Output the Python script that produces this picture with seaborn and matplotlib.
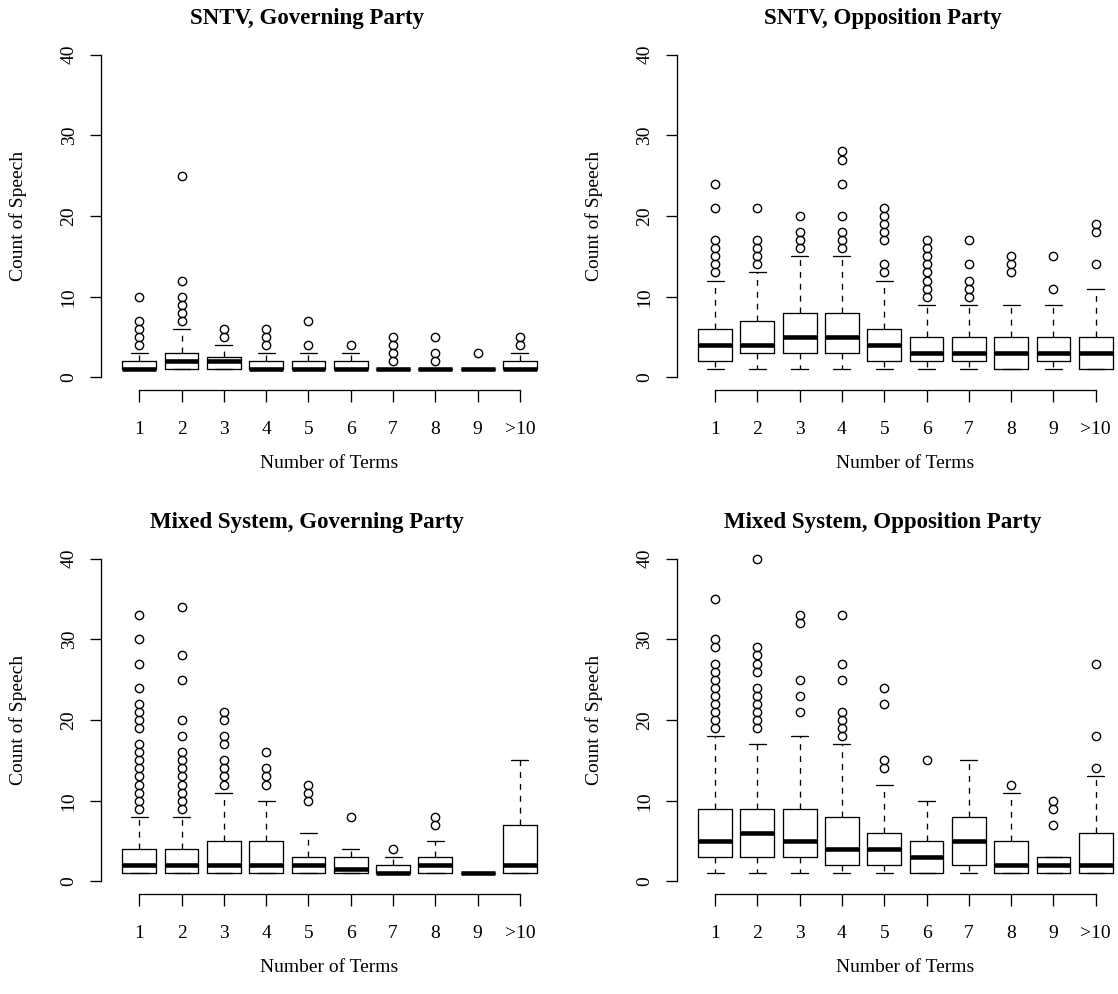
import matplotlib
matplotlib.use("Agg")
import matplotlib.pyplot as plt
import seaborn as sns

# ---------------------------------------------------------------------------
# Box-plot summaries of speech counts by number of terms served
# (lower whisker, first quartile, median, third quartile, upper whisker, outliers)
# ---------------------------------------------------------------------------
terms = ["1", "2", "3", "4", "5", "6", "7", "8", "9", ">10"]

# SNTV, governing party
sntv_gov_low = [1, 1, 1, 1, 1, 1, 1, 1, 1, 1]
sntv_gov_q1 = [1, 1, 1, 1, 1, 1, 1, 1, 1, 1]
sntv_gov_med = [1, 2, 2, 1, 1, 1, 1, 1, 1, 1]
sntv_gov_q3 = [2, 3, 2.5, 2, 2, 2, 1, 1, 1, 2]
sntv_gov_high = [3, 6, 4, 3, 3, 3, 1, 1, 1, 3]
sntv_gov_out = [[4, 5, 6, 7, 10], [7, 8, 9, 10, 12, 25], [5, 6], [4, 5, 6],
                [4, 7], [4], [2, 3, 4, 5], [2, 3, 5], [3], [4, 5]]

# SNTV, opposition party
sntv_opp_low = [1, 1, 1, 1, 1, 1, 1, 1, 1, 1]
sntv_opp_q1 = [2, 3, 3, 3, 2, 2, 2, 1, 2, 1]
sntv_opp_med = [4, 4, 5, 5, 4, 3, 3, 3, 3, 3]
sntv_opp_q3 = [6, 7, 8, 8, 6, 5, 5, 5, 5, 5]
sntv_opp_high = [12, 13, 15, 15, 12, 9, 9, 9, 9, 11]
sntv_opp_out = [[13, 14, 15, 16, 17, 21, 24], [14, 15, 16, 17, 21],
                [16, 17, 18, 20], [16, 17, 18, 20, 24, 27, 28],
                [13, 14, 17, 18, 19, 20, 21], [10, 11, 12, 13, 14, 15, 16, 17],
                [10, 11, 12, 14, 17], [13, 14, 15], [11, 15], [14, 18, 19]]

# Mixed system, governing party
mixed_gov_low = [1, 1, 1, 1, 1, 1, 1, 1, 1, 1]
mixed_gov_q1 = [1, 1, 1, 1, 1, 1, 1, 1, 1, 1]
mixed_gov_med = [2, 2, 2, 2, 2, 1.5, 1, 2, 1, 2]
mixed_gov_q3 = [4, 4, 5, 5, 3, 3, 2, 3, 1, 7]
mixed_gov_high = [8, 8, 11, 10, 6, 4, 3, 5, 1, 15]
mixed_gov_out = [[9, 10, 11, 12, 13, 14, 15, 16, 17, 19, 20, 21, 22, 24, 27, 30, 33],
                 [9, 10, 11, 12, 13, 14, 15, 16, 18, 20, 25, 28, 34],
                 [12, 13, 14, 15, 17, 18, 20, 21], [12, 13, 14, 16],
                 [10, 11, 12], [8], [4], [7, 8], [], []]

# Mixed system, opposition party
mixed_opp_low = [1, 1, 1, 1, 1, 1, 1, 1, 1, 1]
mixed_opp_q1 = [3, 3, 3, 2, 2, 1, 2, 1, 1, 1]
mixed_opp_med = [5, 6, 5, 4, 4, 3, 5, 2, 2, 2]
mixed_opp_q3 = [9, 9, 9, 8, 6, 5, 8, 5, 3, 6]
mixed_opp_high = [18, 17, 18, 17, 12, 10, 15, 11, 3, 13]
mixed_opp_out = [[19, 20, 21, 22, 23, 24, 25, 26, 27, 29, 30, 35],
                 [19, 20, 21, 22, 23, 24, 26, 27, 28, 29, 40],
                 [21, 23, 25, 32, 33], [18, 19, 20, 21, 25, 27, 33],
                 [14, 15, 22, 24], [15], [], [12], [7, 9, 10], [14, 18, 27]]

titles = ["SNTV, Governing Party", "SNTV, Opposition Party",
          "Mixed System, Governing Party", "Mixed System, Opposition Party"]

panels = [
    (sntv_gov_low, sntv_gov_q1, sntv_gov_med, sntv_gov_q3, sntv_gov_high, sntv_gov_out),
    (sntv_opp_low, sntv_opp_q1, sntv_opp_med, sntv_opp_q3, sntv_opp_high, sntv_opp_out),
    (mixed_gov_low, mixed_gov_q1, mixed_gov_med, mixed_gov_q3, mixed_gov_high, mixed_gov_out),
    (mixed_opp_low, mixed_opp_q1, mixed_opp_med, mixed_opp_q3, mixed_opp_high, mixed_opp_out),
]

# ---------------------------------------------------------------------------
# Styling
# ---------------------------------------------------------------------------
sns.set_theme(style="ticks", rc={
    "axes.edgecolor": "black",
    "axes.labelcolor": "black",
    "text.color": "black",
    "xtick.color": "black",
    "ytick.color": "black",
    "axes.linewidth": 0.95,
})
plt.rcParams["font.family"] = ["Liberation Serif", "DejaVu Serif"]

W, H = 1118, 994
fig = plt.figure(figsize=(W / 100, H / 100), dpi=100)


def fx(px):
    return px / W


def fy(py):
    return 1 - py / H


# plot regions in pixel coordinates: (left, top, right, bottom)
regions = [(101.2, 41.7, 558.0, 390.3), (677.0, 41.7, 1133.8, 390.3),
           (101.2, 545.7, 558.0, 894.3), (677.0, 545.7, 1133.8, 894.3)]
title_x = [307, 883, 307, 883]

positions = list(range(1, len(terms) + 1))

for (low, q1, med, q3, high, out), (l, t, r, b), title, tx in zip(panels, regions, titles, title_x):
    ax = fig.add_axes([fx(l), fy(b), fx(r) - fx(l), fy(t) - fy(b)])
    stats = [
        {"whislo": lo, "q1": a, "med": m, "q3": c, "whishi": hi, "fliers": o, "label": lab}
        for lo, a, m, c, hi, o, lab in zip(low, q1, med, q3, high, out, terms)
    ]
    ax.bxp(stats, positions=positions, widths=0.8, capwidths=0.4,
           showfliers=True, manage_ticks=False,
           boxprops=dict(color="black", linewidth=0.95),
           medianprops=dict(color="black", linewidth=3.3, solid_capstyle="butt"),
           whiskerprops=dict(color="black", linewidth=0.95, linestyle=(0, (4.5, 4.5))),
           capprops=dict(color="black", linewidth=0.95),
           flierprops=dict(marker="o", markerfacecolor="none", markeredgecolor="black",
                           markersize=6.0, markeredgewidth=1.0, linestyle="none"))

    ax.set_xlim(0.1, 10.9)
    ax.set_ylim(-1.6, 41.6)
    ax.set_xticks(positions)
    ax.set_xticklabels(terms)
    ax.set_yticks([0, 10, 20, 30, 40])
    ax.tick_params(axis="x", length=8.3, width=0.95, labelsize=14, pad=13.5)
    ax.tick_params(axis="y", length=8.0, width=0.95, labelsize=14, pad=9, labelrotation=90)
    for lab in ax.get_yticklabels():
        lab.set_va("center")

    sns.despine(ax=ax, top=True, right=True)
    ax.spines["left"].set_bounds(0, 40)
    ax.spines["bottom"].set_bounds(1, 10)
    ax.patch.set_alpha(0)

    fig.text(fx(tx), fy(t - 23.4), title, ha="center", va="center",
             fontsize=16.5, fontweight="bold")
    fig.text(fx((l + r) / 2), fy(b + 73.5), "Number of Terms", ha="center",
             va="center", fontsize=14)
    fig.text(fx(l - 83), fy((t + b) / 2), "Count of Speech", ha="center",
             va="center", rotation=90, fontsize=14)

fig.savefig("out.png", dpi=100, facecolor="white")
